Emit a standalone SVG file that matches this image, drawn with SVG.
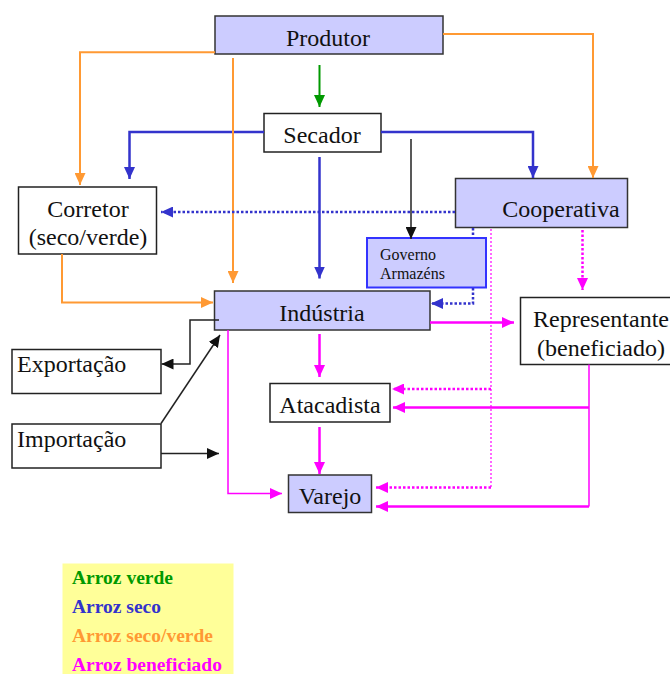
<svg xmlns="http://www.w3.org/2000/svg" width="670" height="674" viewBox="0 0 670 674">
<style>
.box{fill:#ffffff;stroke:#222;stroke-width:1.5}
.pbox{fill:#ccccff;stroke:#333;stroke-width:1.5}
.gbox{fill:#ccccff;stroke:#3333ff;stroke-width:2}
.t{font-family:"Liberation Serif","Times New Roman",serif;font-size:24px;fill:#111}
.c{text-anchor:middle}
.s{font-family:"Liberation Serif","Times New Roman",serif;font-size:16px;fill:#111}
.lg{font-family:"Liberation Serif","Times New Roman",serif;font-size:19px;font-weight:bold}
.ln{fill:none}
.green{stroke:#009900;stroke-width:2}
.blue{stroke:#3333cc;stroke-width:2.5}
.orange{stroke:#ff9933;stroke-width:2}
.black{stroke:#222;stroke-width:1.5}
.mag{stroke:#ff00ff;stroke-width:2.5}
.magt{stroke:#ff00ff;stroke-width:1.5}
.bdot{stroke:#3333cc;stroke-width:2.5;stroke-dasharray:2.5 2}
.mdot{stroke:#ff00ff;stroke-width:2.5;stroke-dasharray:2.5 2}
.mthin{stroke:#ff00ff;stroke-width:1.2;stroke-dasharray:2 2}
</style>
<defs>
<marker id="aG" markerUnits="userSpaceOnUse" markerWidth="12" markerHeight="11" refX="12" refY="5.5" orient="auto"><path d="M0,0 L12,5.5 L0,11 z" fill="#009900"/></marker>
<marker id="aB" markerUnits="userSpaceOnUse" markerWidth="12" markerHeight="11" refX="12" refY="5.5" orient="auto"><path d="M0,0 L12,5.5 L0,11 z" fill="#3333cc"/></marker>
<marker id="aO" markerUnits="userSpaceOnUse" markerWidth="12" markerHeight="11" refX="12" refY="5.5" orient="auto"><path d="M0,0 L12,5.5 L0,11 z" fill="#ff9933"/></marker>
<marker id="aK" markerUnits="userSpaceOnUse" markerWidth="12" markerHeight="11" refX="12" refY="5.5" orient="auto"><path d="M0,0 L12,5.5 L0,11 z" fill="#111"/></marker>
<marker id="aM" markerUnits="userSpaceOnUse" markerWidth="12" markerHeight="11" refX="12" refY="5.5" orient="auto"><path d="M0,0 L12,5.5 L0,11 z" fill="#ff00ff"/></marker>
</defs>

<g id="produtor"><rect class="pbox" x="215" y="16" width="228" height="38"/><text class="t c" x="328" y="45.5">Produtor</text></g>
<g id="secador"><rect class="box" x="264" y="113.5" width="117" height="38.5"/><text class="t c" x="322" y="143">Secador</text></g>
<g id="corretor"><rect class="box" x="18.5" y="187" width="138" height="67"/><text class="t c" x="88" y="217">Corretor</text><text class="t c" x="88" y="245">(seco/verde)</text></g>
<g id="cooperativa"><rect class="pbox" x="455.5" y="178.5" width="172" height="49"/><text class="t c" x="561" y="217">Cooperativa</text></g>
<g id="governo"><rect class="gbox" x="367" y="238" width="119" height="49.5"/><text class="s" x="380" y="260">Governo</text><text class="s" x="380" y="279">Armazéns</text></g>
<g id="industria"><rect class="pbox" x="214.5" y="291" width="215.5" height="39"/><text class="t c" x="322" y="320.5">Indústria</text></g>
<g id="representante"><rect class="box" x="520.5" y="297.5" width="160" height="67"/><text class="t c" x="601" y="327">Representante</text><text class="t c" x="601" y="356">(beneficiado)</text></g>
<g id="exportacao"><rect class="box" x="12" y="349.5" width="149" height="44"/><text class="t" x="17" y="372">Exportação</text></g>
<g id="importacao"><rect class="box" x="12" y="424" width="149" height="44"/><text class="t" x="17" y="447">Importação</text></g>
<g id="atacadista"><rect class="box" x="270" y="383.5" width="120" height="38.5"/><text class="t c" x="330" y="413">Atacadista</text></g>
<g id="varejo"><rect class="pbox" x="288.5" y="475" width="83" height="37.5"/><text class="t c" x="330" y="504">Varejo</text></g>

<g id="connectors" class="ln">
<path class="green" d="M319.5,65 V107" marker-end="url(#aG)"/>
<path class="blue" d="M264,132 H129.5 V179" marker-end="url(#aB)"/>
<path class="blue" d="M381,132 H533 V178" marker-end="url(#aB)"/>
<path class="blue" d="M319.5,157 V278.5" marker-end="url(#aB)"/>
<path class="black" d="M411,139 V239" marker-end="url(#aK)"/>
<path class="orange" d="M215,52.3 H80 V185" marker-end="url(#aO)"/>
<path class="orange" d="M233,58 V283" marker-end="url(#aO)"/>
<path class="orange" d="M443,34 H593 V178" marker-end="url(#aO)"/>
<path class="bdot" d="M455,212 H161" marker-end="url(#aB)"/>
<path class="bdot" d="M473,228 V237"/>
<path class="bdot" d="M473,288 V303.5 H431" marker-end="url(#aB)"/>
<path class="mdot" d="M582.5,230 V290" marker-end="url(#aM)"/>
<path class="mthin" d="M491,229 V487"/>
<path class="mdot" d="M491,389 H392" marker-end="url(#aM)"/>
<path class="mdot" d="M491,487.5 H376" marker-end="url(#aM)"/>
<path class="orange" d="M62,254 V302.5 H213" marker-end="url(#aO)"/>
<path class="mag" d="M430,322.5 H514" marker-end="url(#aM)"/>
<path class="mag" d="M319.5,334 V377" marker-end="url(#aM)"/>
<path class="mag" d="M319.5,427 V474" marker-end="url(#aM)"/>
<path class="magt" d="M228,330 V493.5 H282" marker-end="url(#aM)"/>
<path class="magt" d="M589,364.5 V506.5"/>
<path class="mag" d="M589,407.5 H393" marker-end="url(#aM)"/>
<path class="mag" d="M589,506.5 H376" marker-end="url(#aM)"/>
<path class="black" d="M219,320 H190 V364 H161.5" marker-end="url(#aK)"/>
<path class="black" d="M161,423.5 L220,335" marker-end="url(#aK)"/>
<path class="black" d="M161,453.5 H219" marker-end="url(#aK)"/>
</g>

<g id="legend">
<rect x="62.5" y="563.5" width="171" height="112" fill="#ffff99"/>
<text class="lg" x="72" y="584" fill="#009900" textLength="101" lengthAdjust="spacingAndGlyphs">Arroz verde</text>
<text class="lg" x="72" y="613" fill="#3333cc" textLength="89" lengthAdjust="spacingAndGlyphs">Arroz seco</text>
<text class="lg" x="72" y="642" fill="#ff9933" textLength="141" lengthAdjust="spacingAndGlyphs">Arroz seco/verde</text>
<text class="lg" x="72" y="671" fill="#ff00ff" textLength="150" lengthAdjust="spacingAndGlyphs">Arroz beneficiado</text>
</g>
</svg>
